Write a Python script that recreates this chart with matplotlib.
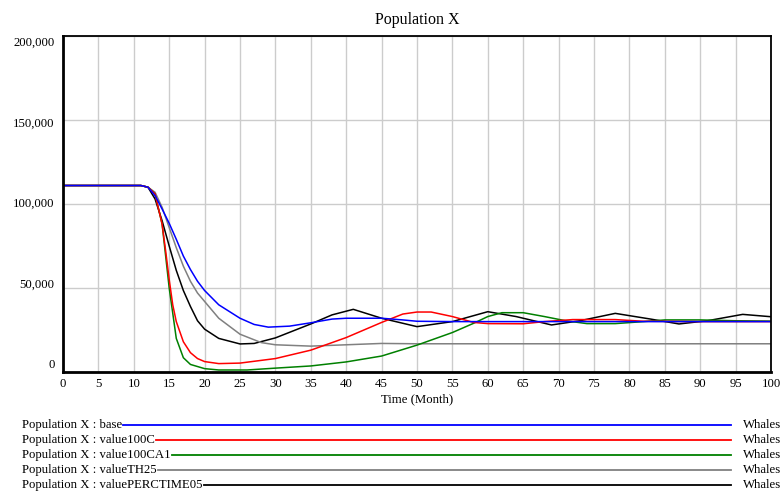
import matplotlib
matplotlib.use('Agg')
import matplotlib.pyplot as plt

plt.rcParams['font.family'] = ['Liberation Serif', 'DejaVu Serif']

# (Time in months, population in whales)
base_t = [0, 11, 12, 13, 14, 15, 16, 17, 18, 19, 20, 22, 25, 27, 29, 32, 35,
          38, 40, 45, 48, 50, 55, 60, 70, 80, 90, 100]
base_v = [111000, 111000, 110000, 105000, 97000, 88500, 79000, 69000, 61000,
          54000, 48500, 40000, 32000, 28300, 26700, 27300, 29300, 31500,
          32000, 32000, 31000, 30200, 30000, 30000, 30000, 30000, 30000, 30000]

v100c_t = [0, 11, 12, 13, 14, 14.5, 15, 15.5, 16, 17, 18, 19, 20, 22, 25, 30,
           35, 40, 45, 48, 50, 52, 55, 58, 60, 65, 68, 72, 78, 82, 90, 100]
v100c_v = [111000, 111000, 110000, 106000, 88000, 72000, 55000, 40000, 30000,
           18000, 11500, 8000, 6200, 5000, 5300, 8000, 13000, 20500, 29500,
           34500, 35700, 35700, 33000, 29500, 28800, 28700, 30000, 31200,
           31200, 30200, 30000, 30000]

v100ca1_t = [0, 11, 12, 13, 14, 15, 15.5, 16, 17, 18, 20, 22, 26, 30, 35, 40,
             45, 50, 55, 58, 60, 62, 65, 68, 71, 74, 78, 82, 85, 90, 95, 100]
v100ca1_v = [111000, 111000, 110000, 106000, 88000, 50000, 35000, 20000, 8500,
             4500, 2000, 1200, 1200, 2300, 3600, 6000, 9500, 16000, 23500,
             29000, 33000, 35300, 35300, 33000, 30500, 28800, 28800, 30000,
             31000, 31000, 30500, 30300]

th25_t = [0, 11, 12, 13, 14, 15, 16, 17, 18, 19, 20, 22, 25, 28, 30, 35, 40,
          45, 50, 60, 70, 80, 90, 100]
th25_v = [111000, 111000, 110000, 107000, 98000, 86000, 74000, 63000, 54000,
          47000, 42000, 32000, 22500, 17500, 16200, 15400, 16200, 17000, 16800,
          16800, 16800, 16800, 16800, 16800]

perc_t = [0, 11, 12, 13, 14, 15, 16, 17, 18, 19, 20, 22, 25, 27, 30, 35, 38,
          41, 45, 50, 55, 60, 64, 69, 73, 78, 83, 87, 91, 96, 100]
perc_v = [111000, 111000, 110000, 103000, 90000, 75000, 60500, 48500, 39000,
          30500, 25500, 20000, 16700, 17000, 20300, 28600, 34000, 37300, 32000,
          27000, 30000, 35900, 33000, 28000, 30500, 34900, 31500, 28600, 30500,
          34300, 32900]

series = [
    ('base', base_t, base_v, '#0000ff'),
    ('value100C', v100c_t, v100c_v, '#ff0000'),
    ('value100CA1', v100ca1_t, v100ca1_v, '#008000'),
    ('valueTH25', th25_t, th25_v, '#808080'),
    ('valuePERCTIME05', perc_t, perc_v, '#000000'),
]

y_ticks = [0, 50000, 100000, 150000, 200000]
x_ticks = list(range(0, 101, 5))

W, H = 781, 491
fig = plt.figure(figsize=(W / 100, H / 100), dpi=100)
ax = fig.add_axes([63 / W, (H - 372) / H, 708 / W, 336 / H])

# draw base last so it sits on top
for name, t, v, c in reversed(series):
    ax.plot(t, v, color=c, lw=1.1)

ax.set_xlim(0, 100)
ax.set_ylim(0, 200000)
ax.set_xticks(x_ticks)
ax.set_yticks(y_ticks)
ax.grid(True, color='#cccccc', lw=1.0)
ax.set_axisbelow(True)
ax.tick_params(axis='x', length=0, pad=4.5, labelsize=9.2)
ax.tick_params(axis='y', length=0, labelleft=False)
for s in ax.spines.values():
    s.set_color('black')
    s.set_linewidth(1.3)
ax.spines['left'].set_linewidth(2)
ax.spines['bottom'].set_linewidth(2)

# Vensim places y labels slightly squeezed inside the frame
for v in y_ticks:
    ax.text(-0.012, (4167 + 0.9583 * v) / 200000, '{:,}'.format(v),
            transform=ax.transAxes, ha='right', va='center', fontsize=9.2)

ax.set_xlabel('Time (Month)', fontsize=9.2, labelpad=2)
ax.set_title('Population X', fontsize=11.5, pad=9)

# legend rows below the chart
fig.canvas.draw()
renderer = fig.canvas.get_renderer()
row_y = [425, 440, 455, 470, 485]
for (name, t, v, c), yp in zip(series, row_y):
    yf = 1 - yp / H
    txt = fig.text(22 / W, yf, 'Population X : ' + name, ha='left',
                   va='center', fontsize=9.2)
    bb = txt.get_window_extent(renderer)
    x0 = (bb.x1 + 1) / W
    fig.add_artist(plt.Line2D([x0, 731 / W], [yf, yf], color=c, lw=1.3,
                              transform=fig.transFigure))
    fig.text(743 / W, yf, 'Whales', ha='left', va='center', fontsize=9.2)

fig.savefig('out.png', dpi=100)
